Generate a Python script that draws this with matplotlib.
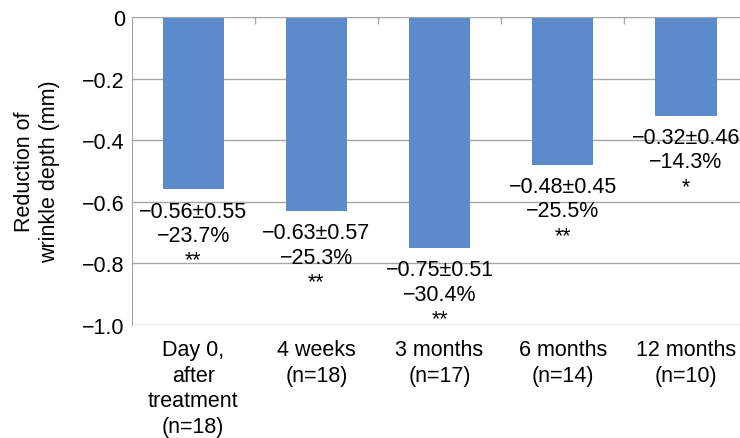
import matplotlib
matplotlib.use("Agg")
import matplotlib.pyplot as plt
from matplotlib.ticker import FixedLocator

plt.rcParams['font.family'] = ['Liberation Sans', 'DejaVu Sans']

categories = ["Day 0,\nafter\ntreatment\n(n=18)", "4 weeks\n(n=18)", "3 months\n(n=17)",
              "6 months\n(n=14)", "12 months\n(n=10)"]
means = [-0.56, -0.63, -0.75, -0.48, -0.32]
sds = [0.55, 0.57, 0.51, 0.45, 0.46]
percents = [-23.7, -25.3, -30.4, -25.5, -14.3]
stars = ["**", "**", "**", "**", "*"]
yticks = [0, -0.2, -0.4, -0.6, -0.8, -1.0]
ytick_labels = ["0", "\u22120.2", "\u22120.4", "\u22120.6", "\u22120.8", "\u22121.0"]

FS = 15.5
LS = 1.22

fig = plt.figure(figsize=(7.4, 4.39), dpi=100)
ax = fig.add_axes([0.178, 0.2574, 0.822, 0.7016])

x = list(range(len(categories)))
bar_color = "#5B8BCA"
grid_color = "#A6A6A6"
ax.bar(x, means, width=0.5, color=bar_color, zorder=3)

for i, (m, s, p, st) in enumerate(zip(means, sds, percents, stars)):
    txt = f"\u2212{abs(m):.2f}\u00b1{s:.2f}\n\u2212{abs(p):.1f}%\n{st}"
    ax.annotate(txt, xy=(i, m), xytext=(0, -8), textcoords="offset points",
                ha="center", va="top", fontsize=FS, linespacing=LS, zorder=4)

ax.set_ylim(-1.0, 0)
ax.set_xlim(-0.5, 4.44)
ax.set_yticks(yticks)
ax.set_yticklabels(ytick_labels, fontsize=FS)
ax.yaxis.grid(True, color=grid_color, linewidth=1, zorder=0)
ax.set_xticks(x)
ax.set_xticklabels(categories, fontsize=FS, linespacing=1.3, va="top")
ax.xaxis.set_minor_locator(FixedLocator([0.5, 1.5, 2.5, 3.5]))
ax.tick_params(axis="x", which="major", length=0, pad=10)
ax.tick_params(axis="x", which="minor", bottom=False, top=True, direction="in",
               length=5, color=grid_color, width=1)
ax.tick_params(axis="y", length=0, pad=5)

for side in ["right", "bottom"]:
    ax.spines[side].set_visible(False)
ax.spines["left"].set_color(grid_color)
ax.spines["top"].set_color(grid_color)
ax.spines["top"].set_zorder(5)

ax.set_ylabel("Reduction of\nwrinkle depth (mm)", fontsize=FS, linespacing=1.25, labelpad=16)

fig.savefig("out.png", dpi=100)
